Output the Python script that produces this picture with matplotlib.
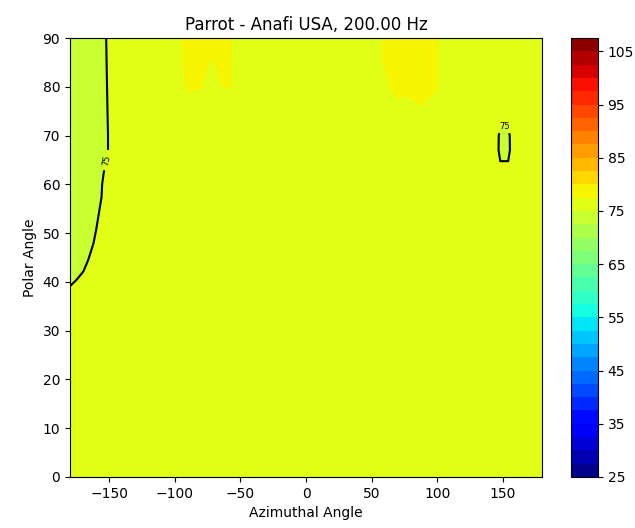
import numpy as np
import matplotlib
matplotlib.use("Agg")
import matplotlib.pyplot as plt

title = "Parrot - Anafi USA, 200.00 Hz"
azimuth = [-180, -170, -160, -150, -140, -100, -90, -80, -72, -64, -58, -50, 0,
           50, 60, 70, 76, 88, 100, 106, 144, 148, 154, 158, 180]
polar = [0, 30, 38, 39.3, 40.4, 42.1, 44.5, 47.9, 53.3, 57.4, 60, 62.2, 64, 67,
         70, 75, 80, 85, 90]
spl = [
    # -180  -170  -160  -150  -140  -100  -90   -80   -72   -64   -58   -50    0     50    60    70    76    88    100   106   144   148   154   158   180
    [76.0, 76.0, 76.1, 76.2, 76.2, 76.2, 76.2, 76.2, 76.2, 76.2, 76.2, 76.2, 76.2, 76.2, 76.2, 76.2, 76.2, 76.2, 76.2, 76.2, 76.2, 76.2, 76.2, 76.2, 76.0],
    [75.8, 75.9, 76.0, 76.2, 76.2, 76.2, 76.2, 76.2, 76.2, 76.2, 76.2, 76.2, 76.2, 76.2, 76.2, 76.2, 76.2, 76.2, 76.2, 76.2, 76.2, 76.2, 76.2, 76.2, 76.0],
    [75.4, 75.8, 76.0, 76.1, 76.2, 76.2, 76.2, 76.2, 76.2, 76.2, 76.2, 76.2, 76.2, 76.2, 76.2, 76.2, 76.2, 76.2, 76.2, 76.2, 76.2, 76.2, 76.2, 76.2, 76.1],
    [74.95, 75.6, 75.9, 76.1, 76.2, 76.2, 76.2, 76.2, 76.2, 76.2, 76.2, 76.2, 76.2, 76.2, 76.2, 76.2, 76.2, 76.2, 76.2, 76.2, 76.2, 76.2, 76.2, 76.2, 76.1],
    [74.6, 75.4, 75.9, 76.1, 76.2, 76.2, 76.2, 76.2, 76.2, 76.2, 76.2, 76.2, 76.2, 76.2, 76.2, 76.2, 76.2, 76.2, 76.2, 76.2, 76.2, 76.2, 76.2, 76.2, 76.1],
    [74.3, 74.98, 75.8, 76.1, 76.2, 76.2, 76.2, 76.2, 76.2, 76.2, 76.2, 76.2, 76.2, 76.2, 76.2, 76.2, 76.2, 76.2, 76.2, 76.2, 76.2, 76.2, 76.2, 76.2, 76.2],
    [74.1, 74.6, 75.6, 76.1, 76.2, 76.2, 76.2, 76.2, 76.2, 76.2, 76.2, 76.2, 76.2, 76.2, 76.2, 76.2, 76.2, 76.2, 76.2, 76.2, 76.2, 76.2, 76.2, 76.2, 76.2],
    [74.0, 74.2, 75.2, 76.0, 76.2, 76.2, 76.2, 76.2, 76.2, 76.2, 76.2, 76.2, 76.2, 76.2, 76.2, 76.2, 76.2, 76.2, 76.2, 76.2, 76.2, 76.2, 76.2, 76.2, 76.2],
    [74.0, 74.0, 74.8, 76.0, 76.2, 76.2, 76.2, 76.2, 76.2, 76.2, 76.2, 76.2, 76.2, 76.2, 76.2, 76.2, 76.2, 76.2, 76.2, 76.2, 76.2, 76.2, 76.2, 76.2, 76.2],
    [74.0, 74.0, 74.5, 75.7, 76.2, 76.2, 76.2, 76.2, 76.2, 76.2, 76.2, 76.2, 76.2, 76.2, 76.2, 76.2, 76.2, 76.2, 76.2, 76.2, 76.2, 76.2, 76.2, 76.2, 76.2],
    [74.0, 74.0, 74.4, 75.7, 76.2, 76.2, 76.2, 76.2, 76.2, 76.2, 76.2, 76.2, 76.2, 76.2, 76.2, 76.2, 76.2, 76.2, 76.2, 76.2, 76.2, 76.2, 76.2, 76.2, 76.2],
    [74.0, 74.0, 74.2, 75.6, 76.2, 76.2, 76.2, 76.2, 76.2, 76.2, 76.2, 76.2, 76.2, 76.2, 76.2, 76.2, 76.2, 76.2, 76.2, 76.2, 76.2, 76.2, 76.2, 76.2, 76.2],
    [74.0, 74.0, 74.0, 75.4, 76.2, 76.2, 76.2, 76.2, 76.2, 76.2, 76.2, 76.2, 76.2, 76.2, 76.2, 76.2, 76.2, 76.2, 76.2, 76.2, 76.2, 75.2, 75.2, 76.2, 76.2],
    [74.0, 74.0, 74.0, 75.1, 76.2, 76.2, 76.2, 76.2, 76.2, 76.2, 76.2, 76.2, 76.2, 76.2, 76.2, 76.2, 76.2, 76.2, 76.2, 76.2, 76.2, 74.4, 74.4, 76.2, 76.2],
    [74.0, 74.0, 74.0, 75.1, 76.2, 76.2, 76.2, 76.2, 76.2, 76.2, 76.2, 76.2, 76.2, 76.2, 76.2, 76.2, 76.2, 76.2, 76.2, 76.2, 76.2, 74.5, 74.5, 76.2, 76.2],
    [74.0, 74.0, 74.0, 75.15, 76.2, 76.2, 76.4, 76.3, 76.2, 76.2, 76.2, 76.2, 76.2, 76.2, 76.2, 77.0, 76.9, 77.3, 76.5, 76.2, 76.2, 75.9, 75.9, 76.2, 76.2],
    [74.0, 74.0, 74.0, 75.2, 76.2, 76.2, 77.8, 77.6, 76.6, 77.45, 77.6, 76.2, 76.2, 76.2, 77.2, 78.0, 77.8, 78.2, 77.6, 76.3, 76.2, 76.2, 76.2, 76.2, 76.2],
    [74.0, 74.0, 74.0, 75.25, 76.2, 76.3, 78.2, 77.8, 77.4, 77.9, 77.8, 76.3, 76.2, 76.4, 77.6, 78.3, 78.3, 78.4, 77.6, 76.4, 76.2, 76.2, 76.2, 76.2, 76.2],
    [74.0, 74.0, 74.0, 75.3, 76.2, 76.5, 78.5, 78.3, 78.0, 78.4, 77.7, 76.5, 76.2, 76.5, 77.7, 78.5, 78.5, 78.5, 77.6, 76.5, 76.2, 76.2, 76.2, 76.2, 76.2],
]
levels = np.arange(25, 108, 2.5)
cbar_ticks = [25, 35, 45, 55, 65, 75, 85, 95, 105]
x_ticks = [-150, -100, -50, 0, 50, 100, 150]
y_ticks = [0, 10, 20, 30, 40, 50, 60, 70, 80, 90]
line_level = [75]

fig = plt.figure(figsize=(6.35, 5.28), dpi=100)
ax = fig.add_axes([0.110, 0.0966, 0.744, 0.8314])
cax = fig.add_axes([0.899, 0.0966, 0.0425, 0.8314])

Z = np.array(spl)
cf = ax.contourf(azimuth, polar, Z, levels=levels, cmap='jet')
cs = ax.contour(azimuth, polar, Z, levels=line_level, colors='k', linewidths=1.5)
ax.clabel(cs, fmt='%d', fontsize=6, inline=True, manual=[(-153, 65), (151, 72.5)])

ax.set_xlim(-180, 180)
ax.set_ylim(0, 90)
ax.set_xticks(x_ticks)
ax.set_yticks(y_ticks)
ax.set_xlabel("Azimuthal Angle")
ax.set_ylabel("Polar Angle")
ax.set_title(title)

cb = fig.colorbar(cf, cax=cax, ticks=cbar_ticks)

fig.savefig("out.png", dpi=100)
